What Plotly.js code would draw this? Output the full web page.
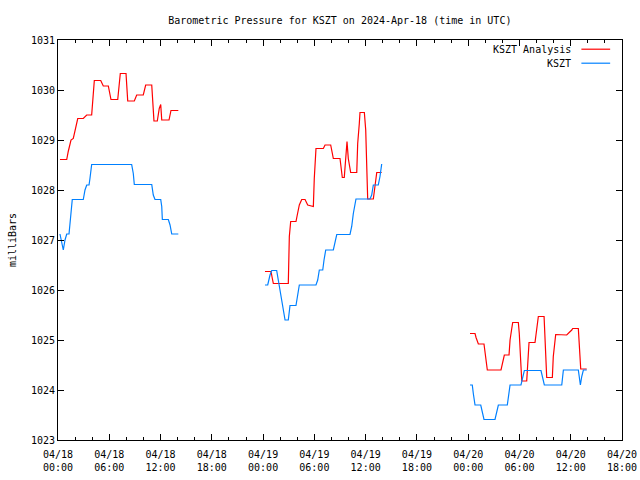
<!DOCTYPE html>
<html>
<head>
<meta charset="utf-8">
<script src="https://cdn.plot.ly/plotly-3.0.1.min.js"></script>
<style>html,body{margin:0;padding:0;background:#fff}#chart{width:640px;height:480px}</style>
</head>
<body>
<div id="chart"></div>
<script>
// Hours after 2024-04-18 00:00 UTC; null breaks between the three runs
var analysisHours = [
  0.23,1.02,1.2,1.52,1.79,2.07,2.31,2.96,3.36,3.94,4.06,4.25,5.0,5.3,5.89,6.2,6.99,7.14,7.29,7.96,8.16,8.93,9.21,9.98,10.26,10.97,11.08,11.23,11.62,11.85,12.02,12.14,12.99,13.22,14.08,
  null,
  24.22,24.93,25.08,25.20,26.95,27.07,27.23,27.85,28.00,28.24,28.52,28.91,29.22,29.69,29.88,29.99,30.19,31.05,31.25,31.91,32.10,32.22,33.00,33.12,33.27,33.50,33.67,33.82,33.97,34.25,34.96,35.07,35.26,35.34,35.85,36.01,36.13,36.24,36.90,37.02,37.18,37.30,37.88,
  null,
  48.21,48.80,48.92,49.19,49.85,50.05,50.24,51.84,52.04,52.23,52.78,52.90,53.10,53.21,53.87,53.98,54.18,54.27,54.85,54.97,55.12,55.82,56.02,56.21,56.88,56.99,57.11,57.19,57.85,57.96,58.24,58.95,59.53,60.12,60.23,60.89,61.01,61.17,61.87
];
var analysisMb = [
  1028.61,1028.61,1028.77,1029.0,1029.03,1029.23,1029.43,1029.43,1029.5,1029.5,1029.83,1030.19,1030.19,1030.08,1030.08,1029.81,1029.81,1030.1,1030.33,1030.33,1029.78,1029.78,1029.9,1029.9,1030.1,1030.1,1029.77,1029.38,1029.38,1029.63,1029.71,1029.4,1029.4,1029.59,1029.59,
  null,
  1026.37,1026.37,1026.23,1026.13,1026.13,1027.07,1027.37,1027.37,1027.5,1027.7,1027.81,1027.81,1027.7,1027.67,1027.67,1028.23,1028.83,1028.83,1028.9,1028.9,1028.77,1028.63,1028.63,1028.43,1028.25,1028.25,1028.63,1028.97,1028.63,1028.35,1028.35,1028.93,1029.33,1029.55,1029.55,1029.2,1028.47,1027.82,1027.82,1028.0,1028.25,1028.35,1028.35,
  null,
  1025.13,1025.13,1025.05,1024.92,1024.92,1024.67,1024.4,1024.4,1024.57,1024.7,1024.7,1025.0,1025.23,1025.35,1025.35,1025.13,1024.47,1024.18,1024.18,1024.57,1024.95,1024.95,1025.2,1025.47,1025.47,1024.93,1024.57,1024.25,1024.25,1024.67,1025.11,1025.11,1025.1,1025.2,1025.23,1025.23,1024.9,1024.42,1024.42
];
var stationHours = [
  0.23,0.43,0.62,0.82,1.02,1.29,1.49,1.67,2.96,3.16,3.36,3.63,3.74,3.94,8.62,8.81,8.93,10.97,11.15,11.35,12.02,12.14,12.21,12.91,13.11,13.31,14.08,
  null,
  24.22,24.54,24.81,25.01,25.59,25.78,25.98,26.18,26.37,26.57,26.95,27.15,27.85,28.00,28.24,30.19,30.39,30.58,30.98,31.13,31.33,32.22,32.42,32.62,34.17,34.37,34.56,34.87,36.51,36.71,36.90,37.48,37.68,37.88,
  null,
  48.21,48.48,48.60,48.80,49.47,49.65,49.85,51.14,51.34,51.53,52.58,52.78,52.90,54.18,54.38,54.57,56.52,56.72,56.91,58.95,59.14,60.89,61.01,61.13,61.29,61.48,61.87
];
var stationMb = [
  1027.12,1026.97,1026.8,1027.0,1027.12,1027.12,1027.47,1027.81,1027.81,1028.0,1028.1,1028.1,1028.23,1028.51,1028.51,1028.33,1028.11,1028.11,1027.9,1027.81,1027.81,1027.67,1027.41,1027.41,1027.3,1027.12,1027.12,
  null,
  1026.1,1026.1,1026.3,1026.39,1026.39,1026.2,1026.03,1025.8,1025.57,1025.4,1025.4,1025.69,1025.69,1025.87,1026.1,1026.1,1026.2,1026.4,1026.4,1026.6,1026.8,1026.8,1026.93,1027.11,1027.11,1027.27,1027.53,1027.82,1027.82,1027.9,1028.1,1028.1,1028.27,1028.52,
  null,
  1024.1,1024.1,1023.93,1023.7,1023.7,1023.57,1023.41,1023.41,1023.57,1023.7,1023.7,1024.0,1024.1,1024.1,1024.23,1024.39,1024.39,1024.23,1024.1,1024.1,1024.4,1024.4,1024.23,1024.1,1024.27,1024.4,1024.4
];
var seriesNames = ["KSZT Analysis", "KSZT"];
var seriesColors = ["#ff0000", "#0080ff"];
var chartTitle = "Barometric Pressure for KSZT on 2024-Apr-18 (time in UTC)";
var yTitle = "milliBars";
var xStart = "2024-04-18 00:00", xEnd = "2024-04-20 18:00";
var yMin = 1023, yMax = 1031;

function toDate(h) {
  if (h === null) return null;
  var d = new Date(Date.UTC(2024, 3, 18) + h * 3600000);
  function p(n){return (n<10?'0':'')+n;}
  return d.getUTCFullYear()+'-'+p(d.getUTCMonth()+1)+'-'+p(d.getUTCDate())+' '+p(d.getUTCHours())+':'+p(d.getUTCMinutes())+':'+p(d.getUTCSeconds());
}

var FONT = {family: "DejaVu Sans Mono, Liberation Mono, monospace", size: 10, color: "#000"};

var traces = [
  {x: analysisHours.map(toDate), y: analysisMb, name: seriesNames[0], type: "scatter", mode: "lines",
   line: {color: seriesColors[0], width: 1.2}, connectgaps: false, showlegend: false},
  {x: stationHours.map(toDate), y: stationMb, name: seriesNames[1], type: "scatter", mode: "lines",
   line: {color: seriesColors[1], width: 1.2}, connectgaps: false, showlegend: false}
];

// legend drawn gnuplot-style: text on the left, sample line on the right
var legendY = [0.977, 0.942];
var annotations = seriesNames.map(function(n, i){
  return {xref: "paper", yref: "paper", x: 0.913, y: legendY[i], text: n, showarrow: false,
          xanchor: "right", yanchor: "middle", font: FONT};
});
var shapes = seriesNames.map(function(n, i){
  return {type: "line", xref: "paper", yref: "paper", x0: 0.928, x1: 0.979, y0: legendY[i], y1: legendY[i],
          line: {color: seriesColors[i], width: 1.2}};
});

var layout = {
  width: 640, height: 480,
  margin: {l: 58, r: 18, t: 40, b: 40},
  paper_bgcolor: "#fff", plot_bgcolor: "#fff",
  font: FONT,
  title: {text: chartTitle, font: FONT, x: 0.531, xanchor: "center", y: 0.958, yanchor: "middle"},
  showlegend: false,
  xaxis: {
    type: "date", range: [xStart, xEnd],
    tick0: "2024-04-18 00:00", dtick: 21600000, tickformat: "%m/%d<br>%H:%M",
    ticks: "inside", ticklen: 6, tickcolor: "#000", tickwidth: 1,
    minor: {dtick: 7200000, ticks: "inside", ticklen: 3, tickcolor: "#000", tickwidth: 1},
    showline: true, linecolor: "#000", linewidth: 1, mirror: "ticks",
    showgrid: false, zeroline: false, tickfont: FONT, ticklabelstandoff: 5
  },
  yaxis: {
    range: [yMin, yMax], dtick: 1, tick0: 1023,
    ticks: "inside", ticklen: 6, tickcolor: "#000", tickwidth: 1,
    showline: true, linecolor: "#000", linewidth: 1, mirror: "ticks",
    showgrid: false, zeroline: false, tickfont: FONT,
    title: {text: yTitle, font: FONT, standoff: 12}
  },
  annotations: annotations,
  shapes: shapes
};

Plotly.newPlot("chart", traces, layout, {staticPlot: true, displayModeBar: false});
</script>
</body>
</html>
